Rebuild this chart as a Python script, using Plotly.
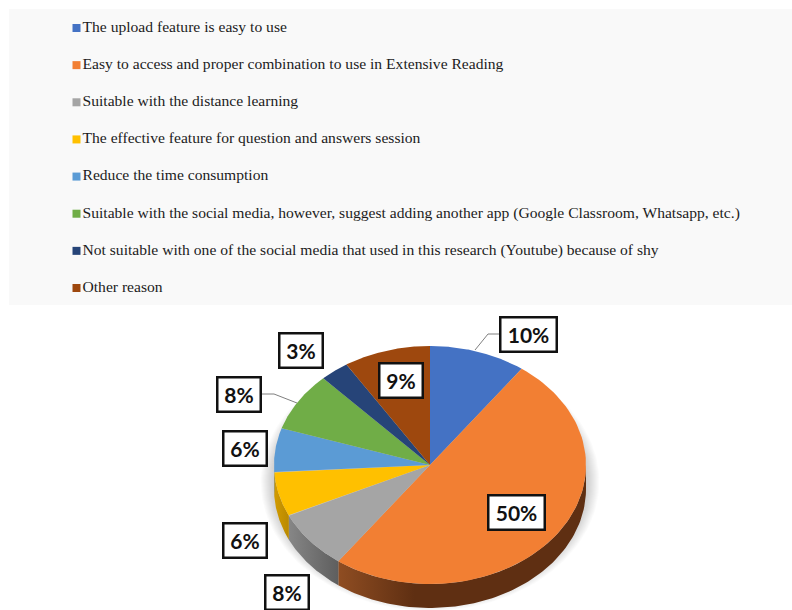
import numpy as np
import plotly.graph_objects as go

W, H = 792, 610

# Survey answers and their shares
categories = [
    "The upload feature is easy to use",
    "Easy to access and proper combination to use in Extensive Reading",
    "Suitable with the distance learning",
    "The effective feature for question and answers session",
    "Reduce the time consumption",
    "Suitable with the social media, however, suggest adding another app (Google Classroom, Whatsapp, etc.)",
    "Not suitable with one of the social media that used in this research (Youtube) because of shy",
    "Other reason",
]
shares = [10, 50, 8, 6, 6, 8, 3, 9]

# Styling, kept apart from the values
top_colors = ["#4472C4", "#F27F33", "#A5A5A5", "#FFC000", "#5B9BD5", "#70AD47", "#264478", "#9E480E"]
wall_colors = {
    1: ("#8F4D22", "#5F2F12", -0.10),
    2: ("#868686", "#5E5E5E", None),
    3: ("#D29B00", "#B98900", None),
    4: ("#4A7DAB", "#41709A", None),
}
label_centers = [(528.5, 334), (516.5, 512.5), (286.5, 592), (244.5, 540),
                 (244.5, 448), (238.5, 394), (300.5, 350), (400.5, 380)]

# Pie geometry in pixels: one data unit equals one radius of the tilted disc
CX, CY, RX, RY, DEPTH = 430, 465, 156, 119, 24
dy = DEPTH / RY


def arc(a0, a1, n=90):
    """Points on the unit circle, angles clockwise from twelve o'clock."""
    t = np.radians(np.linspace(a0, a1, n))
    return np.sin(t), np.cos(t)


def px_to_paper(x, y):
    return x / W, 1 - y / H


fig = go.Figure()

# Soft shadow below the disc
for i in range(14):
    s = 1.085 - i * 0.0065
    t = np.radians(np.linspace(0, 360, 181))
    fig.add_trace(go.Scatter(
        x=s * np.sin(t), y=s * np.cos(t) - 0.14, mode="lines", fill="toself",
        fillcolor="rgba(110,110,110,0.028)", line=dict(width=0), hoverinfo="skip"))

edges = np.cumsum([0] + shares) / sum(shares) * 360

# Side wall of the lower half of the disc
for i, (a0, a1) in enumerate(zip(edges[:-1], edges[1:])):
    lo, hi = max(a0, 90), min(a1, 270)
    if hi <= lo:
        continue
    x, y = arc(lo, hi)
    xs = np.concatenate([x, x[::-1]])
    ys = np.concatenate([y, y[::-1] - dy])
    light, dark, stop = wall_colors[i]
    fig.add_trace(go.Scatter(
        x=xs, y=ys, mode="lines", fill="toself", line=dict(width=0), hoverinfo="skip",
        fillgradient=dict(
            type="horizontal",
            start=float(x.min()),
            stop=float(stop if stop is not None else x.max()),
            colorscale=[[0, light], [1, dark]],
        ),
    ))

# Top face of the disc
for (a0, a1), color in zip(zip(edges[:-1], edges[1:]), top_colors):
    x, y = arc(a0, a1)
    fig.add_trace(go.Scatter(
        x=np.concatenate([[0], x, [0]]), y=np.concatenate([[0], y, [0]]),
        mode="lines", fill="toself", fillcolor=color,
        line=dict(width=0), hoverinfo="skip"))

# Legend rows on their own axes across the upper band
fig.add_trace(go.Scatter(
    x=[76.5] * len(categories), y=list(range(len(categories))),
    xaxis="x2", yaxis="y2", mode="markers+text",
    marker=dict(symbol="square", size=8, color=top_colors, line=dict(width=0)),
    text=categories, textposition="middle right",
    textfont=dict(family="Liberation Serif", size=15.6, color="#1c1c1c"),
    hoverinfo="skip", cliponaxis=False))

# Percentage boxes
annotations = []
for value, (px, py) in zip(shares, label_centers):
    ax, ay = px_to_paper(px, py)
    annotations.append(dict(
        x=ax, y=ay, xref="paper", yref="paper", xanchor="center", yanchor="middle",
        text=f"<b>{value}%</b>", showarrow=False,
        font=dict(family="Lato", size=21, color="#111111"),
        bgcolor="white", bordercolor="#111111", borderwidth=2.5, borderpad=0,
        width=(54 if value >= 10 else 41), height=32))

# Leader lines
leaders = [
    [(475, 350), (488, 334), (500, 334)],
    [(297, 403), (274, 394), (262, 394)],
]
shapes = [dict(type="rect", xref="paper", yref="paper", layer="below",
               x0=9 / W, x1=1, y0=1 - 305 / H, y1=1 - 9 / H,
               fillcolor="#F9F9F9", line=dict(width=0))]
for pts in leaders:
    for (x0, y0), (x1, y1) in zip(pts[:-1], pts[1:]):
        p0, p1 = px_to_paper(x0, y0), px_to_paper(x1, y1)
        shapes.append(dict(type="line", xref="paper", yref="paper",
                           x0=p0[0], y0=p0[1], x1=p1[0], y1=p1[1],
                           line=dict(color="#7F7F7F", width=1)))

row = (305 - 9) / 7.97
hidden = dict(visible=False, fixedrange=True)
fig.update_layout(
    width=W, height=H, autosize=False,
    margin=dict(l=0, r=0, t=0, b=0),
    paper_bgcolor="white", plot_bgcolor="rgba(0,0,0,0)",
    showlegend=False,
    xaxis=dict(hidden, domain=[0, 1], range=[-CX / RX, (W - CX) / RX]),
    yaxis=dict(hidden, domain=[0, 1], range=[-(H - CY) / RY, CY / RY]),
    xaxis2=dict(hidden, domain=[0, 1], range=[0, W], anchor="y2"),
    yaxis2=dict(hidden, domain=[1 - 306 / H, 1 - 10 / H],
                range=[7 + 18 / row, -18 / row], anchor="x2"),
    shapes=shapes, annotations=annotations,
)

fig.write_html("out.html", config=dict(displayModeBar=False))
